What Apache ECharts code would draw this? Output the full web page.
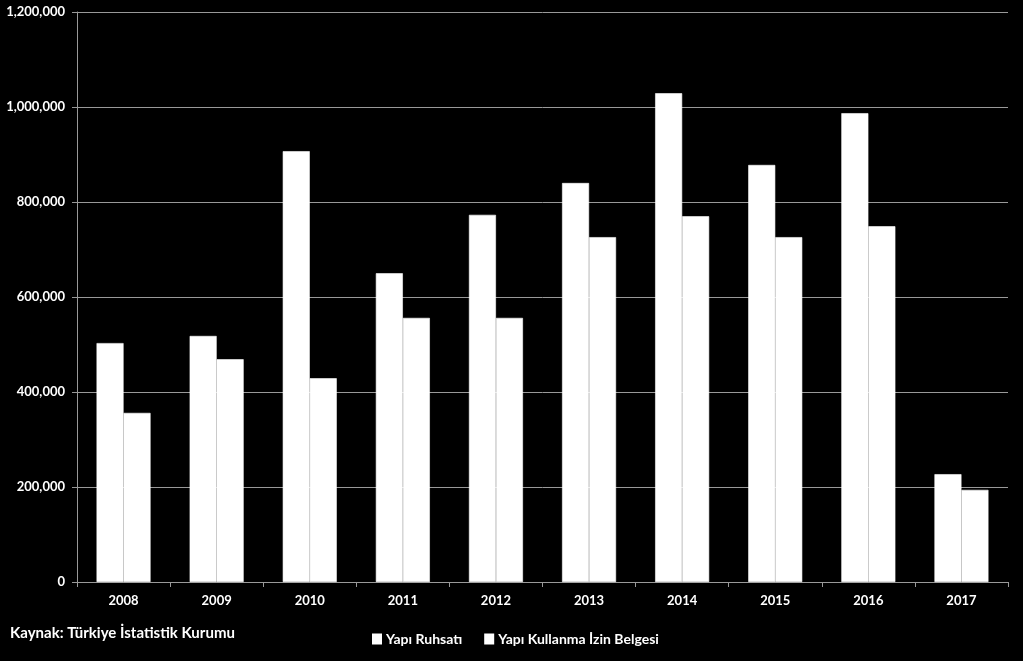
<!DOCTYPE html>
<html><head><meta charset="utf-8">
<script src="https://cdn.jsdelivr.net/npm/echarts@6/dist/echarts.min.js"></script>
<style>html,body{margin:0;padding:0;background:#000;}#c{width:1023px;height:661px;}</style>
</head><body><div id="c"></div>
<script>
const categories = ['2008','2009','2010','2011','2012','2013','2014','2015','2016','2017'];
const yapiRuhsati = [503000, 518000, 907000, 650000, 773000, 840000, 1029000, 878000, 987000, 227000];
const yapiKullanma = [356000, 469000, 429000, 556000, 556000, 726000, 770000, 726000, 749000, 194000];
const seriesNames = ['Yapı Ruhsatı', 'Yapı Kullanma İzin Belgesi'];
const sourceText = 'Kaynak: Türkiye İstatistik Kurumu';

const font = 'Lato, "Open Sans", sans-serif';
const chart = echarts.init(document.getElementById('c'));
chart.setOption({
  backgroundColor: '#000',
  animation: false,
  grid: {left: 77, right: 15, top: 12, bottom: 79},
  legend: {
    left: 367, top: 627, icon: 'rect', itemWidth: 8, itemHeight: 9, itemGap: 22,
    textStyle: {color: '#fff', fontFamily: font, fontWeight: 'bold', fontSize: 14},
    data: seriesNames
  },
  graphic: [{type: 'text', left: 10, top: 626, style: {text: sourceText, fill: '#fff', font: 'bold 15px ' + font}}],
  xAxis: {
    type: 'category', data: categories,
    axisLine: {lineStyle: {color: '#999'}},
    axisTick: {show: true, length: 5, lineStyle: {color: '#999'}},
    axisLabel: {color: '#fff', fontFamily: font, fontWeight: 'bold', fontSize: 13, margin: 12}
  },
  yAxis: {
    type: 'value', min: 0, max: 1200000, interval: 200000,
    axisLine: {show: true, lineStyle: {color: '#999'}},
    axisTick: {show: true, length: 5, lineStyle: {color: '#999'}},
    splitLine: {lineStyle: {color: '#999'}},
    axisLabel: {color: '#fff', fontFamily: font, fontWeight: 'bold', fontSize: 13, margin: 12,
      formatter: v => v.toLocaleString('en-US')}
  },
  series: [
    {name: seriesNames[0], type: 'bar', data: yapiRuhsati, barGap: '0%', barCategoryGap: '42%', itemStyle: {color: '#fff', borderColor: '#fff', borderWidth: 0.6}},
    {name: seriesNames[1], type: 'bar', data: yapiKullanma, barGap: '0%', barCategoryGap: '42%', itemStyle: {color: '#fff', borderColor: '#fff', borderWidth: 0.6}}
  ]
});
</script></body></html>
